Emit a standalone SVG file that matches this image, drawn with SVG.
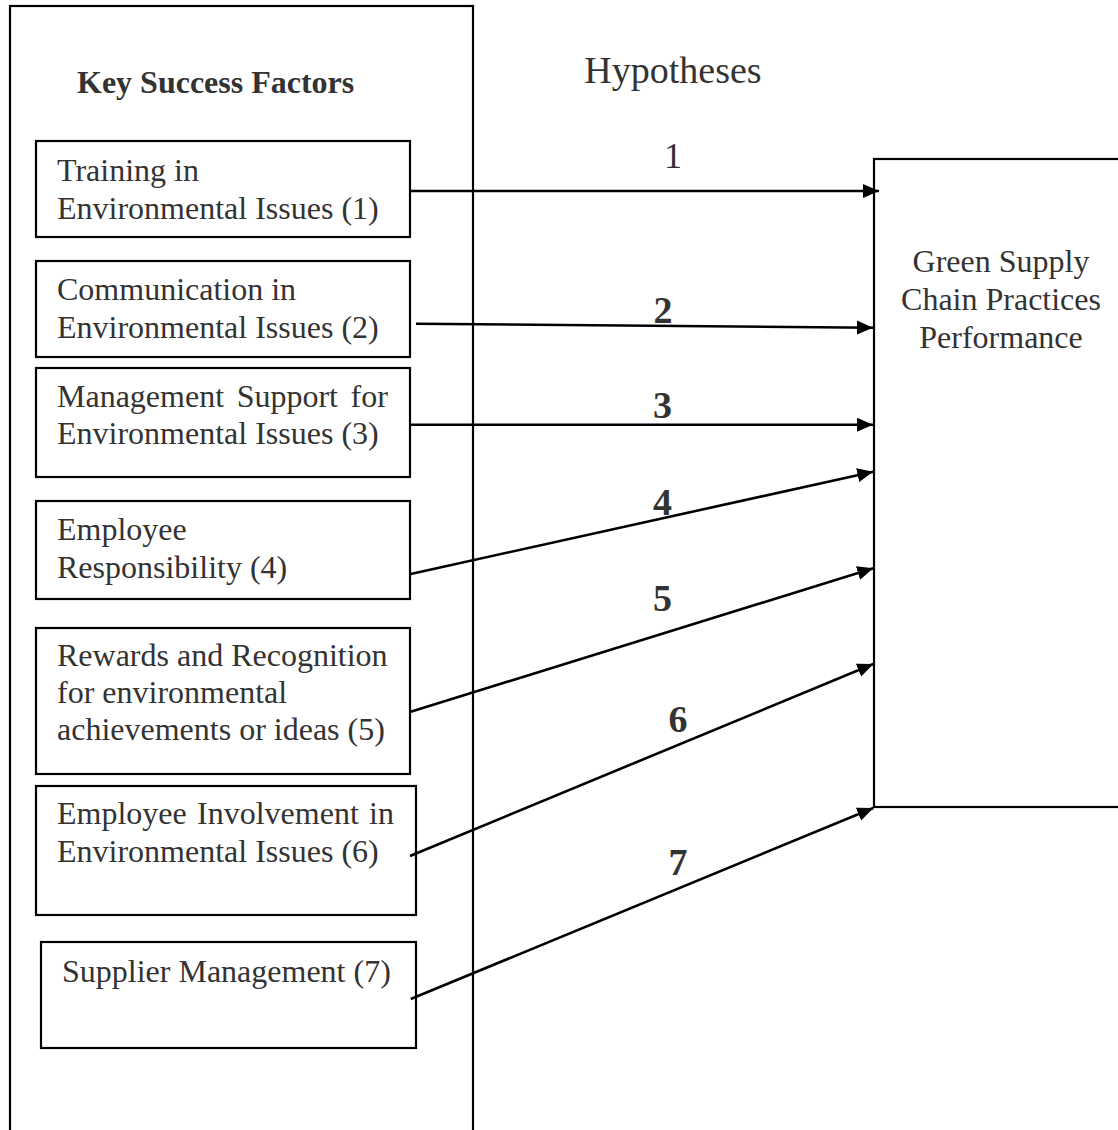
<svg xmlns="http://www.w3.org/2000/svg" width="1118" height="1130" viewBox="0 0 1118 1130">
  <style>
    .box { fill: none; stroke: #000; stroke-width: 2.2; }
    .t { font-family: "Liberation Serif", "Times New Roman", serif; font-size: 32px; fill: #333; }
    .head { font-family: "Liberation Serif", "Times New Roman", serif; font-size: 32px; font-weight: bold; fill: #333; }
    .hyp { font-family: "Liberation Serif", "Times New Roman", serif; font-size: 38px; fill: #333; }
    .num { font-family: "Liberation Serif", "Times New Roman", serif; font-size: 38px; font-weight: bold; fill: #333; text-anchor: middle; }
    .num1 { font-family: "Liberation Serif", "Times New Roman", serif; font-size: 36px; fill: #333; text-anchor: middle; }
    .link { stroke: #000; stroke-width: 2.6; fill: none; marker-end: url(#arrow); }
  </style>
  <defs>
    <marker id="arrow" markerUnits="userSpaceOnUse" markerWidth="18" markerHeight="18" viewBox="0 0 18 18" refX="16" refY="9" orient="auto">
      <path d="M0,2 L16,9 L0,16 Z" fill="#000"/>
    </marker>
  </defs>
  <rect width="1118" height="1130" fill="#fff"/>

  <!-- factor column frame -->
  <g id="factors">
    <rect class="box" x="10" y="6" width="463" height="1140"/>
    <text class="head" x="77" y="93">Key Success Factors</text>
  </g>

  <text class="hyp" x="673" y="83" text-anchor="middle">Hypotheses</text>

  <g id="f1">
    <rect class="box" x="36" y="141" width="374" height="96"/>
    <text class="t" x="57" y="181">Training in</text>
    <text class="t" x="57" y="219">Environmental Issues (1)</text>
  </g>
  <g id="f2">
    <rect class="box" x="36" y="261" width="374" height="96"/>
    <text class="t" x="57" y="300">Communication in</text>
    <text class="t" x="57" y="338">Environmental Issues (2)</text>
  </g>
  <g id="f3">
    <rect class="box" x="36" y="368" width="374" height="109"/>
    <text class="t" x="57" y="407" word-spacing="4.6">Management Support for</text>
    <text class="t" x="57" y="444">Environmental Issues (3)</text>
  </g>
  <g id="f4">
    <rect class="box" x="36" y="501" width="374" height="98"/>
    <text class="t" x="57" y="540">Employee</text>
    <text class="t" x="57" y="578">Responsibility (4)</text>
  </g>
  <g id="f5">
    <rect class="box" x="36" y="628" width="374" height="146"/>
    <text class="t" x="57" y="666">Rewards and Recognition</text>
    <text class="t" x="57" y="703">for environmental</text>
    <text class="t" x="57" y="740">achievements or ideas (5)</text>
  </g>
  <g id="f6">
    <rect class="box" x="36" y="786" width="380" height="129"/>
    <text class="t" x="57" y="824" word-spacing="2.3">Employee Involvement in</text>
    <text class="t" x="57" y="862">Environmental Issues (6)</text>
  </g>
  <g id="f7">
    <rect class="box" x="41" y="942" width="375" height="106"/>
    <text class="t" x="62" y="982">Supplier Management (7)</text>
  </g>

  <g id="outcome">
    <rect class="box" x="874" y="159" width="260" height="648"/>
    <text class="t" x="1001" y="272" text-anchor="middle">Green Supply</text>
    <text class="t" x="1001" y="310" text-anchor="middle">Chain Practices</text>
    <text class="t" x="1001" y="348" text-anchor="middle">Performance</text>
  </g>

  <!-- hypothesis arrows -->
  <g id="connectors">
    <line class="link" x1="410" y1="191" x2="879" y2="191"/>
    <line class="link" x1="416" y1="323.7" x2="873" y2="327.7"/>
    <line class="link" x1="410" y1="424.7" x2="873" y2="424.7"/>
    <line class="link" x1="410.7" y1="574" x2="873.3" y2="471.7"/>
    <line class="link" x1="410.7" y1="711.7" x2="873.3" y2="568.3"/>
    <line class="link" x1="410" y1="856" x2="873.3" y2="664"/>
    <line class="link" x1="410.7" y1="999" x2="873.3" y2="808"/>
    <text class="num1" x="673" y="168">1</text>
    <text class="num" x="663" y="323">2</text>
    <text class="num" x="662.5" y="418">3</text>
    <text class="num" x="662.5" y="515">4</text>
    <text class="num" x="662.5" y="611">5</text>
    <text class="num" x="678" y="732">6</text>
    <text class="num" x="678" y="875">7</text>
  </g>
</svg>
